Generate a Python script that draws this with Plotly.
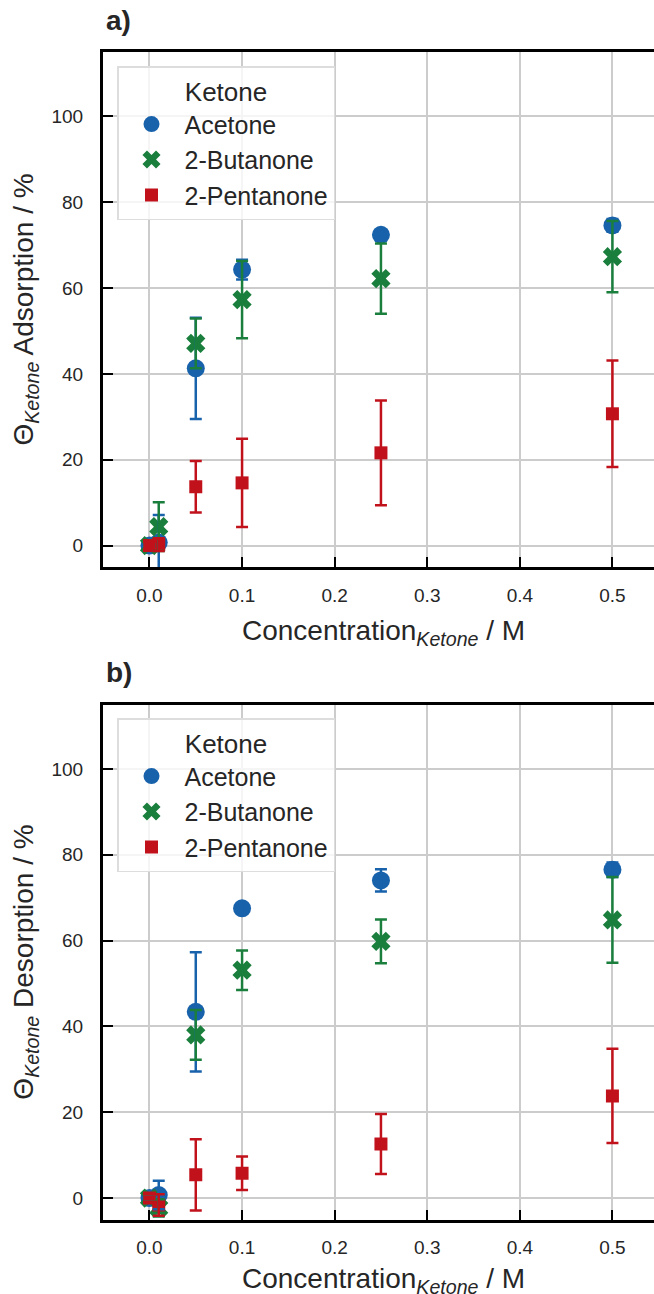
import plotly.graph_objects as go

# ---- data ----
concentration = [0.0, 0.01, 0.05, 0.1, 0.25, 0.5]
ketones = ["Acetone", "2-Butanone", "2-Pentanone"]

ads_acetone = [0.0, 0.7, 41.3, 64.3, 72.4, 74.6]
ads_acetone_err = [0.3, 6.4, 11.8, 2.3, 0.8, 1.5]
ads_butanone = [0.0, 4.4, 47.1, 57.3, 62.2, 67.3]
ads_butanone_err = [0.3, 5.7, 5.8, 9.0, 8.2, 8.3]
ads_pentanone = [0.0, 0.2, 13.7, 14.6, 21.6, 30.7]
ads_pentanone_err = [0.3, 1.5, 6.0, 10.3, 12.2, 12.4]

des_acetone = [0.0, 0.7, 43.4, 67.5, 74.0, 76.5]
des_acetone_err = [0.3, 3.3, 13.9, 1.0, 2.6, 1.7]
des_butanone = [0.0, -2.3, 38.0, 53.1, 59.8, 64.8]
des_butanone_err = [0.3, 2.0, 5.8, 4.6, 5.1, 10.0]
des_pentanone = [0.0, -1.6, 5.4, 5.8, 12.6, 23.8]
des_pentanone_err = [0.3, 2.5, 8.3, 3.9, 7.0, 11.0]

x_ticks = [0.0, 0.1, 0.2, 0.3, 0.4, 0.5]
y_ticks = [0, 20, 40, 60, 80, 100]

colors = ["#1862AB", "#1A7F3C", "#C1121C"]
symbols = ["circle", "x", "square"]
sizes = [18, 17, 13]

FONT = "Liberation Sans, Arial, Helvetica, sans-serif"
TXT = "#262626"

fig = go.Figure()

panels = [
    ("x", "y", "legend", [ads_acetone, ads_butanone, ads_pentanone],
     [ads_acetone_err, ads_butanone_err, ads_pentanone_err]),
    ("x2", "y2", "legend2", [des_acetone, des_butanone, des_pentanone],
     [des_acetone_err, des_butanone_err, des_pentanone_err]),
]

for xa, ya, lg, vals, errs in panels:
    for name, v, c, s, sz in zip(ketones, vals, colors, symbols, sizes):
        fig.add_trace(go.Scatter(
            x=concentration, y=v, mode="markers", name=name,
            xaxis=xa, yaxis=ya, legend=lg,
            marker=dict(color=c, symbol=s, size=sz, line=dict(width=0)),
        ))
    for name, v, e, c in zip(ketones, vals, errs, colors):
        fig.add_trace(go.Scatter(
            x=concentration, y=v, mode="markers", showlegend=False,
            xaxis=xa, yaxis=ya, hoverinfo="skip",
            marker=dict(color=c, size=1, opacity=0),
            error_y=dict(type="data", array=e, visible=True, color=c,
                         thickness=2.5, width=6),
        ))

axis_common = dict(
    showline=True, linecolor="black", linewidth=3,
    ticks="inside", ticklen=10, tickwidth=2, tickcolor="black",
    showgrid=True, gridcolor="#cccccc", gridwidth=1.6,
    zeroline=False,
    tickfont=dict(family=FONT, size=19, color=TXT),
)

xcommon = dict(axis_common, range=[-0.0502, 0.5449], tickvals=x_ticks,
               ticktext=[f"{t:.1f}" for t in x_ticks], mirror=True,
               ticklabelstandoff=9)
ycommon = dict(axis_common, range=[-5, 115], tickvals=y_ticks,
               ticktext=[str(t) for t in y_ticks], ticklabelstandoff=13)

xtitle = "Concentration<sub><i>Ketone</i></sub> / M"
tfont = dict(family=FONT, size=28, color=TXT)
lfont = dict(family=FONT, size=25, color=TXT)

legend_common = dict(
    xanchor="left", yanchor="top",
    bgcolor="rgba(255,255,255,0.8)", bordercolor="#dddddd", borderwidth=1.5,
    font=lfont, itemwidth=56, tracegroupgap=0,
    title=dict(text="Ketone", side="top center",
               font=dict(family=FONT, size=26, color=TXT)),
)

fig.update_layout(
    width=654, height=1294,
    margin=dict(l=0, r=0, t=0, b=0),
    paper_bgcolor="white", plot_bgcolor="white",
    showlegend=True,
    xaxis=dict(xcommon, domain=[103/654, 1], anchor="y"),
    yaxis=dict(ycommon, domain=[1-567/1294, 1-52/1294], anchor="x",
               title=dict(text="Θ<sub><i>Ketone</i></sub> Adsorption / %",
                          font=tfont, standoff=10)),
    xaxis2=dict(xcommon, domain=[103/654, 1], anchor="y2"),
    yaxis2=dict(ycommon, domain=[1-1219.5/1294, 1-704.5/1294], anchor="x2",
                title=dict(text="Θ<sub><i>Ketone</i></sub> Desorption / %",
                           font=tfont, standoff=10)),
    legend=dict(legend_common, x=117/654, y=1-66/1294),
    legend2=dict(legend_common, x=117/654, y=1-718/1294),
    annotations=[
        dict(text="<b>a)</b>", x=104/654, y=1-20/1294, xref="paper", yref="paper",
             xanchor="left", yanchor="middle", showarrow=False,
             font=dict(family=FONT, size=28, color=TXT)),
        dict(text="<b>b)</b>", x=104/654, y=1-672/1294, xref="paper", yref="paper",
             xanchor="left", yanchor="middle", showarrow=False,
             font=dict(family=FONT, size=28, color=TXT)),
        dict(text=xtitle, x=383/654, y=1-632/1294, xref="paper", yref="paper",
             xanchor="center", yanchor="middle", showarrow=False, font=tfont),
        dict(text=xtitle, x=383/654, y=1-1280/1294, xref="paper", yref="paper",
             xanchor="center", yanchor="middle", showarrow=False, font=tfont),
    ],
)

fig.write_html("out.html", config={"displayModeBar": False},
               post_script="document.body.style.margin='0';document.body.style.padding='0';")
